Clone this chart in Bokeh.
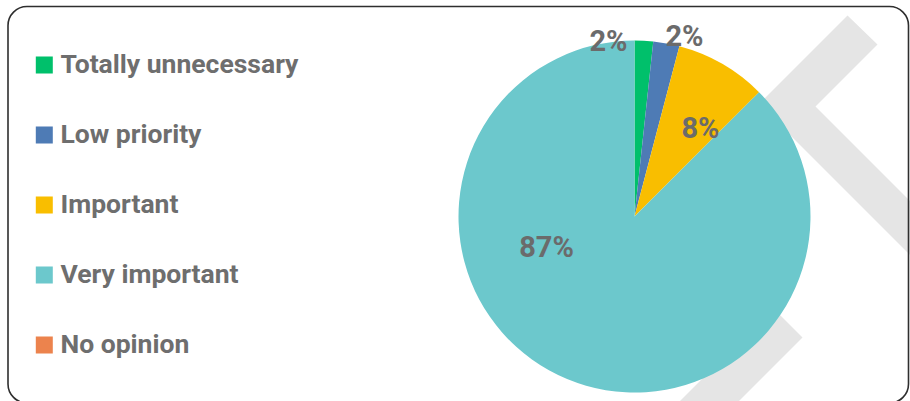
from bokeh.plotting import figure
from bokeh.models import Range1d, BoxAnnotation, ColumnDataSource
from bokeh.core.properties import value
from bokeh.embed import file_html
from bokeh.resources import INLINE
import numpy as np

# ---- data ----
categories = ["Totally unnecessary", "Low priority", "Important", "Very important", "No opinion"]
shares = [1.7, 2.4, 8.4, 87.4, 0.0]
colors = ["#00C06B", "#4E7BB5", "#F9BE00", "#6CC8CC", "#EC834D"]
# label offsets from pie centre (px)
label_dx = [-26, 50, 66, -88]
label_dy = [176, 181, 89, -30]

W, H = 910, 401
p = figure(width=W, height=H, output_backend="svg", toolbar_location=None,
           x_range=Range1d(0, W), y_range=Range1d(0, H), min_border=0,
           background_fill_color="white", border_fill_color="white")
p.axis.visible = False
p.grid.visible = False
p.outline_line_color = None

def X(px):
    return px
def Y(py):
    return H - py

# watermark shapes (decorative)
wm_up = [(847, 15), (877, 44), (815, 106), (925, 216), (925, 270), (758.5, 103.5)]
wm_low = [(700, 235), (802, 337), (690, 449), (631, 449), (743, 337), (650, 244)]
for poly in (wm_up, wm_low):
    p.patch([X(a) for a, b in poly], [Y(b) for a, b in poly],
            fill_color="#E5E5E5", line_color=None)

# pie
cx, cy, r = X(634), Y(216), 176
vals = np.array(shares, dtype=float)
frac = vals / vals.sum()
cum_end = np.cumsum(frac)
cum_start = cum_end - frac
start = np.pi / 2 - 2 * np.pi * cum_end
end = np.pi / 2 - 2 * np.pi * cum_start
shown = [i for i, v in enumerate(shares) if v > 0]
src = ColumnDataSource(dict(start=start[shown], end=end[shown],
                            color=[colors[i] for i in shown],
                            cat=[categories[i] for i in shown]))
p.wedge(x=cx, y=cy, radius=r, start_angle="start", end_angle="end",
        fill_color="color", line_color=None, source=src)

# pie labels
p.text(x=[cx + label_dx[i] for i in shown], y=[cy + label_dy[i] for i in shown],
       text=[f"{round(shares[i])}%" for i in shown],
       text_font=value("Roboto"), text_font_style="bold", text_font_size="29px",
       text_color="#6B6B6B", text_align="center", text_baseline="alphabetic")

# legend
row_y = [Y(64.4) - 70 * i for i in range(len(categories))]
p.rect(x=[X(43.8)] * len(categories), y=row_y, width=17, height=17,
       fill_color=colors, line_color=None)
p.text(x=[X(60)] * len(categories), y=[yy + 1.4 for yy in row_y], text=categories,
       text_font=value("Roboto"), text_font_style="bold", text_font_size="26.5px",
       text_color="#6E6E6E", text_align="left", text_baseline="alphabetic")

# rounded frame
p.add_layout(BoxAnnotation(left=7.5, right=908, top=H - 6, bottom=-1.5,
                           fill_alpha=0, line_color="#2E2E2E", line_alpha=1,
                           line_width=1.6, border_radius=19))

open("out.html", "w").write(file_html(p, INLINE))
